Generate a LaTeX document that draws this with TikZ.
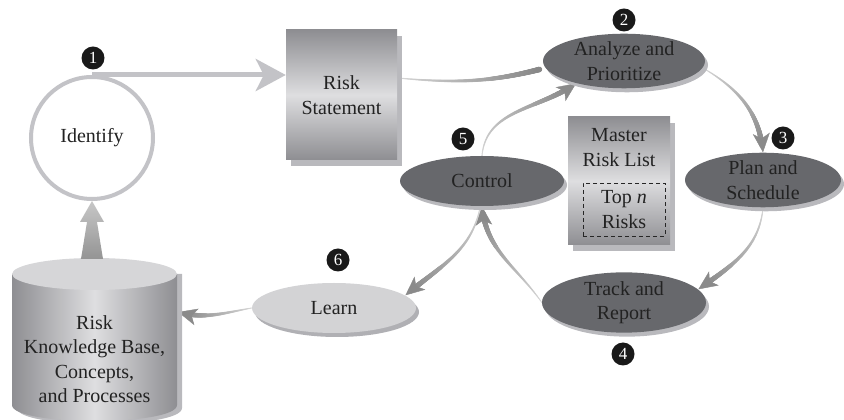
\documentclass[tikz,border=0pt]{standalone}
\usepackage{fontspec}
\setmainfont{Liberation Serif}
\usetikzlibrary{shapes.geometric,shadows,arrows.meta,decorations.markings,backgrounds,calc}
\definecolor{darkell}{HTML}{67686C}
\definecolor{ellshadow}{HTML}{B9B9BD}
\definecolor{lightell}{HTML}{D3D3D5}
\definecolor{lightshadow}{HTML}{B0B0B4}
\definecolor{boxdark}{HTML}{8E8E92}
\definecolor{boxlight}{HTML}{DEDEE0}
\definecolor{ringgray}{HTML}{C3C3C7}
\definecolor{cyltop}{HTML}{D6D6D8}
\definecolor{txt}{HTML}{222222}
\begin{document}
\begin{tikzpicture}[x=1pt,y=1pt,
  every node/.style={font=\fontsize{20}{24.5}\selectfont, text=txt, align=center},
  darkstep/.style={ellipse, fill=darkell, inner sep=0pt,
    drop shadow={shadow xshift=3pt, shadow yshift=-4pt, fill=ellshadow, opacity=1}},
  lightstep/.style={ellipse, fill=lightell, inner sep=0pt,
    drop shadow={shadow xshift=3pt, shadow yshift=-4pt, fill=lightshadow, opacity=1}},
  shbox/.style={rectangle, top color=boxdark, bottom color=boxdark, middle color=boxlight, inner sep=0pt,
    drop shadow={shadow xshift=5pt, shadow yshift=-6pt, fill=ellshadow, opacity=1}},
  badge/.style={circle, fill=black!90, text=white, minimum size=23pt, inner sep=0pt,
    font=\fontsize{17}{17}\selectfont},
  taper/.style={decoration={markings,
    mark=between positions 0 and -7pt step 0.5pt with {%
      \pgfmathsetmacro\tp{\pgfkeysvalueof{/pgf/decoration/mark info/distance from start}/\pgfdecoratedpathlength}%
      \pgfmathsetmacro\tr{0.5+2.4*\tp}%
      \pgfmathsetmacro\tc{16+32*\tp}%
      \fill[black!\tc] (0,0) circle[radius=\tr pt];},
    mark=at position 1 with {\arrow[black!46]{Stealth[length=19pt,width=17pt,inset=5pt]}}},
    decorate}
]
\useasboundingbox (0,0) rectangle (844,420);

% Identify
\node[circle, draw=ringgray, line width=4pt, fill=white, minimum size=122pt, inner sep=0pt] (id) at (92,282) {Identify};
\node[badge] (b1) at (93,362) {1};

% Risk statement
\node[shbox, minimum width=111pt, minimum height=130pt] (rs) at (341.5,325) {Risk\\Statement};

% Ellipses
\node[darkstep, minimum width=162pt, minimum height=50pt] (an) at (624,359) {Analyze and\\Prioritize};
\node[badge] (b2) at (624,400) {2};
\node[darkstep, minimum width=156pt, minimum height=52pt] (pl) at (763,240) {Plan and\\Schedule};
\node[badge] (b3) at (783,282) {3};
\node[darkstep, minimum width=164pt, minimum height=54pt] (tr) at (624,117.5) {Track and\\Report};
\node[badge] (b4) at (623,66) {4};
\node[darkstep, minimum width=164pt, minimum height=50pt] (ct) at (482,239) {Control};
\node[badge] (b5) at (463,281) {5};
\node[lightstep, minimum width=164pt, minimum height=50pt] (ln) at (334,112) {Learn};
\node[badge] (b6) at (338,160) {6};

% Master risk list
\node[shbox, minimum width=102pt, minimum height=128pt] (mrl) at (619,239) {};
\node (mrlt) at (619,272.5) {Master\\Risk List};
\node[draw=black!85, dashed, line width=0.9pt, dash pattern=on 4pt off 3pt, minimum width=82pt, minimum height=53pt, inner sep=0pt] (top) at (624,210.5) {Top \textit{n}\\Risks};

% Cylinder
\fill[ellshadow] (17,146) -- (17,12) .. controls (17,-9.3) and (182,-9.3) .. (182,12) -- (182,146) -- cycle;
\shade[left color=boxdark, right color=boxdark, middle color=boxlight]
  (12,146) -- (12,15) .. controls (12,-6.3) and (177,-6.3) .. (177,15) -- (177,146) -- cycle;
\fill[cyltop] (94.5,146) ellipse[x radius=82.5pt, y radius=16pt];
\node (kb) at (94.5,61) {Risk\\Knowledge Base,\\Concepts,\\and Processes};
\coordinate (kbtop) at (92,161);
\coordinate (kbR) at (178,108);

% wedge arrow from knowledge base to Identify
\shade[top color=black!22, bottom color=black!42]
  (id.south) -- ++(12,-21) -- ++(-7,0) -- ($(kbtop)+(11,0)$) -- ($(kbtop)+(-11,0)$) -- ($(id.south)+(-5,-21)$) -- ++(-7,0) -- cycle;

% Identify -> Risk Statement
\draw[line width=5pt, ringgray, -{Stealth[length=30pt,width=32pt,inset=8pt]}] (id.north) -- (id.north -| rs.west);

% Cycle arrows
\begin{pgfonlayer}{background}
\path[taper] ([yshift=17pt]rs.east) to[out=-5,in=195] (an.185);
\path[taper] (ct.north) to[out=85,in=215] (an.205);
\path[taper] (an.-5) to[out=-30,in=95] (pl.north);
\path[taper] (pl.south) to[out=-95,in=35] (tr.10);
\path[taper] (tr.west) to[out=125,in=-85] (ct.south);
\path[taper] (ct.-94) to[out=-100,in=40] (ln.10);
\path[taper] (ln.west) to[out=190,in=-15] (kbR);
\end{pgfonlayer}
\end{tikzpicture}
\end{document}
